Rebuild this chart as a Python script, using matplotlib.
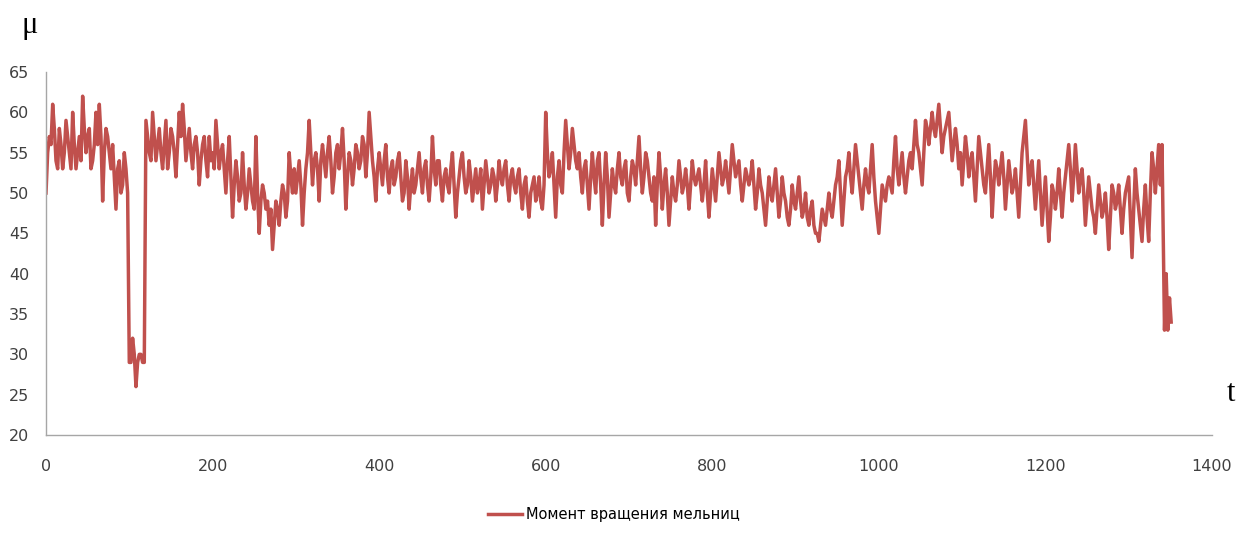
"""Mill torque trace, Excel-style line chart."""
import numpy as np
import matplotlib
matplotlib.use("Agg")
import matplotlib.pyplot as plt

plt.rcParams["font.family"] = ["DejaVu Sans"]
plt.rcParams["xtick.major.size"] = 0
plt.rcParams["ytick.major.size"] = 0
plt.rcParams["xtick.major.pad"] = 17
plt.rcParams["ytick.major.pad"] = 12
plt.rcParams["xtick.labelsize"] = 11.5
plt.rcParams["ytick.labelsize"] = 11.5
plt.rcParams["xtick.labelcolor"] = "#404040"
plt.rcParams["ytick.labelcolor"] = "#404040"

# values, one sample every 2 time units, one list per 100 units
mu_000 = [50, 55, 57, 56, 61, 58, 54, 53, 58, 56, 53, 55, 59, 57, 55, 53, 60, 56, 53, 55, 57, 54, 62, 58, 55,
          57, 58, 53, 54, 56, 60, 56, 61, 57, 49, 55, 58, 57, 55, 53, 56, 52, 48, 53, 54, 50, 51, 55, 53, 50]
mu_100 = [29, 29, 32, 30, 26, 29, 30, 30, 29, 29, 59, 57, 55, 54, 60, 57, 54, 56, 58, 55, 53, 56, 59, 53, 55,
          58, 57, 55, 52, 56, 60, 57, 61, 58, 54, 56, 58, 55, 53, 56, 57, 55, 51, 54, 56, 57, 54, 52, 57, 54]
mu_200 = [55, 53, 59, 56, 53, 55, 56, 53, 50, 54, 57, 52, 47, 51, 54, 52, 49, 50, 55, 51, 48, 50, 53, 51, 49,
          48, 57, 50, 45, 49, 51, 50, 48, 49, 46, 48, 43, 46, 49, 48, 46, 49, 51, 50, 47, 49, 55, 52, 50, 53]
mu_300 = [50, 52, 54, 51, 46, 50, 53, 55, 59, 55, 51, 54, 55, 53, 49, 54, 56, 54, 52, 55, 57, 54, 50, 52, 55,
          56, 53, 55, 58, 54, 48, 52, 55, 54, 51, 53, 56, 55, 53, 54, 57, 56, 52, 55, 60, 57, 54, 52, 49, 53]
mu_400 = [55, 53, 51, 54, 56, 52, 50, 53, 54, 51, 52, 54, 55, 52, 49, 50, 54, 52, 48, 51, 53, 50, 51, 53, 55,
          52, 50, 53, 54, 51, 49, 52, 57, 53, 51, 54, 54, 51, 49, 52, 53, 51, 50, 53, 55, 51, 47, 50, 52, 54]
mu_500 = [55, 52, 50, 51, 54, 52, 49, 51, 53, 50, 51, 53, 48, 51, 54, 52, 50, 51, 53, 52, 49, 51, 54, 52, 51,
          53, 54, 51, 49, 52, 53, 51, 50, 52, 53, 50, 48, 51, 52, 49, 47, 50, 51, 52, 49, 50, 52, 49, 48, 51]
mu_600 = [60, 55, 52, 53, 55, 51, 47, 52, 54, 51, 50, 55, 59, 56, 53, 55, 58, 56, 54, 53, 55, 52, 50, 53, 54,
          51, 48, 52, 55, 52, 50, 54, 55, 51, 46, 51, 55, 52, 47, 50, 53, 51, 50, 53, 55, 52, 51, 53, 54, 50]
mu_700 = [49, 52, 54, 53, 51, 54, 57, 53, 50, 52, 55, 54, 52, 50, 49, 52, 46, 51, 55, 52, 48, 51, 53, 50, 46,
          49, 52, 50, 49, 51, 54, 52, 50, 51, 53, 51, 48, 51, 54, 52, 51, 52, 53, 51, 49, 51, 54, 50, 47, 50]
mu_800 = [53, 51, 49, 52, 55, 53, 51, 52, 54, 52, 50, 53, 56, 54, 52, 53, 54, 51, 49, 51, 53, 52, 51, 52, 54,
          51, 48, 50, 53, 51, 50, 48, 46, 49, 52, 50, 49, 51, 53, 50, 47, 49, 52, 50, 49, 47, 46, 48, 51, 49]
mu_900 = [48, 50, 52, 49, 47, 48, 50, 47, 46, 48, 49, 46, 45, 45, 44, 46, 48, 47, 46, 48, 50, 48, 47, 49, 51,
          52, 54, 50, 46, 49, 52, 53, 55, 52, 50, 53, 56, 54, 52, 50, 48, 51, 53, 51, 50, 53, 56, 52, 49, 47]
mu_1000 = [45, 48, 51, 50, 49, 51, 52, 51, 50, 54, 57, 53, 51, 53, 55, 52, 50, 52, 54, 55, 53, 56, 59, 56, 55,
           53, 51, 55, 59, 58, 56, 58, 60, 58, 57, 59, 61, 58, 55, 57, 58, 59, 60, 57, 54, 56, 58, 56, 53, 55]
mu_1100 = [51, 54, 57, 55, 52, 54, 55, 52, 49, 53, 57, 55, 53, 51, 50, 53, 56, 52, 47, 51, 54, 53, 51, 53, 55,
           52, 48, 51, 54, 52, 50, 51, 53, 50, 47, 51, 55, 57, 59, 55, 51, 53, 54, 51, 48, 51, 54, 50, 46, 49]
mu_1200 = [52, 48, 44, 47, 51, 50, 48, 50, 53, 50, 47, 50, 52, 54, 56, 53, 49, 52, 56, 53, 50, 52, 53, 50, 46,
           49, 52, 50, 48, 47, 45, 48, 51, 49, 47, 48, 50, 47, 43, 47, 51, 50, 48, 49, 51, 48, 45, 48, 50, 51]
mu_1300 = [52, 47, 42, 48, 53, 50, 48, 46, 44, 48, 51, 47, 44, 50, 55, 53, 50, 53, 56, 51, 56]

# sharp drop at the very end
t_tail = [1343, 1345, 1347, 1349, 1351]
mu_tail = [33, 40, 33, 37, 34]

segments = [mu_000, mu_100, mu_200, mu_300, mu_400, mu_500, mu_600,
            mu_700, mu_800, mu_900, mu_1000, mu_1100, mu_1200, mu_1300]
t, mu = [], []
for k, seg in enumerate(segments):
    t += list(100 * k + 2 * np.arange(len(seg)))
    mu += seg
t += t_tail
mu += mu_tail

x_ticks = [0, 200, 400, 600, 800, 1000, 1200, 1400]
y_ticks = [20, 25, 30, 35, 40, 45, 50, 55, 60, 65]
legend_label = "Момент вращения мельниц"

fig = plt.figure(figsize=(12.4, 5.35), dpi=100)
ax = fig.add_axes([0.0371, 0.1869, 0.9403, 0.6785])

ax.plot(t, mu, color="#C0504D", linewidth=2.5, label=legend_label)

ax.set_xlim(0, 1400)
ax.set_ylim(20, 65)
ax.set_xticks(x_ticks)
ax.set_yticks(y_ticks)
for side in ["top", "right"]:
    ax.spines[side].set_visible(False)
for side in ["left", "bottom"]:
    ax.spines[side].set_color("#A6A6A6")
    ax.spines[side].set_linewidth(1.0)

fig.text(0.024, 0.953, "μ", fontsize=22, family="Liberation Serif",
         ha="center", va="center")
fig.text(0.993, 0.264, "t", fontsize=22, family="Liberation Serif",
         ha="center", va="center")

fig.legend(loc="lower center", bbox_to_anchor=(0.495, 0.0), frameon=False,
           handlelength=2.3, handletextpad=0.3, prop={"size": 10.5})

fig.savefig("out.png", dpi=100)
plt.close("all")
